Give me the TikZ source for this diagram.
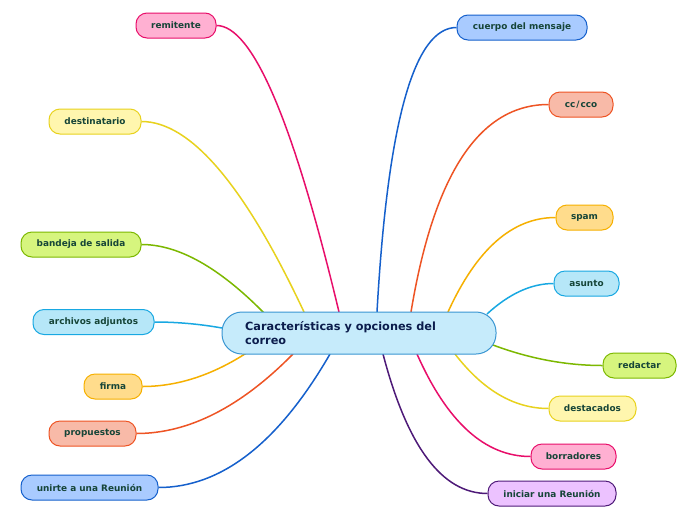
\documentclass[tikz,border=0pt]{standalone}
\usepackage{fontspec}
\setmainfont{DejaVu Sans}
\usetikzlibrary{calc}
\definecolor{pinkL}{HTML}{E80E6A}\definecolor{pinkF}{HTML}{FFB0D2}
\definecolor{yelL}{HTML}{E8D21E}\definecolor{yelF}{HTML}{FFF6AE}
\definecolor{grnL}{HTML}{7CB800}\definecolor{grnF}{HTML}{D6F57E}
\definecolor{cyaL}{HTML}{18A8E2}\definecolor{cyaF}{HTML}{B6E7F8}
\definecolor{ornL}{HTML}{F6B000}\definecolor{ornF}{HTML}{FFDC8C}
\definecolor{redL}{HTML}{EE5424}\definecolor{redF}{HTML}{F8BAA8}
\definecolor{bluL}{HTML}{1560CC}\definecolor{bluF}{HTML}{A9CBFF}
\definecolor{purL}{HTML}{4E1A78}\definecolor{purF}{HTML}{ECC2FF}
\definecolor{cenL}{HTML}{3A96D2}\definecolor{cenF}{HTML}{C6EBFB}
\definecolor{leafT}{HTML}{164538}\definecolor{cenT}{HTML}{0B1C4C}
\tikzset{
  leaf/.style={draw=#1L, fill=#1F, line width=1pt, rounded corners=11pt,
    minimum height=25pt, inner sep=0pt, text=leafT,
    font=\bfseries\fontsize{8.9}{10}\selectfont},
  conn/.style={draw=#1L, line width=1.5pt},
}
\newcommand\conn[4]{% color, start, end, f
  \path (#2) coordinate (s) (#3) coordinate (e);
  \coordinate (q) at ($(e)!#4!(e -| s)$);
  \draw[conn=#1] (s) .. controls ($(s)!0.667!(q)$) and ($(e)!0.667!(q)$) .. (e);
}
\begin{document}
\begin{tikzpicture}[x=1pt,y=-1pt]
\useasboundingbox[fill=white] (0,0) rectangle (696,520);
% leaves
\node[leaf=pink, minimum width=80pt] (rem) at (176,25.5) {remitente};
\node[leaf=yel, minimum width=92pt] (des) at (95,121.5) {destinatario};
\node[leaf=grn, minimum width=120pt] (ban) at (81,244.5) {bandeja de salida};
\node[leaf=cya, minimum width=121pt] (arc) at (93.5,322) {archivos adjuntos};
\node[leaf=orn, minimum width=58pt] (fir) at (113,386.5) {firma};
\node[leaf=red, minimum width=87pt] (pro) at (92.5,433.5) {propuestos};
\node[leaf=blu, minimum width=137pt] (uni) at (89.5,487.5) {unirte a una Reunión};
\node[leaf=blu, minimum width=130pt] (cue) at (522,27.5) {cuerpo del mensaje};
\node[leaf=red, minimum width=64pt] (cc) at (581,104.5) {cc\kern1pt/\kern1pt cco};
\node[leaf=orn, minimum width=57pt] (spa) at (584.5,217.5) {spam};
\node[leaf=cya, minimum width=65pt] (asu) at (586.5,283.5) {asunto};
\node[leaf=grn, minimum width=73pt] (red) at (639.5,365.5) {redactar};
\node[leaf=yel, minimum width=87pt] (dst) at (592.5,408.5) {destacados};
\node[leaf=pink, minimum width=85pt] (bor) at (573.5,456.5) {borradores};
\node[leaf=pur, minimum width=128pt] (ini) at (552,493.5) {iniciar una Reunión};
% connectors (drawn under the central node)
\path (222,312) coordinate (cnw) (496,354) coordinate (cse);
\conn{pink}{$(cnw)+(117,0)$}{rem.east}{0.44}
\conn{yel}{$(cnw)+(82,0)$}{des.east}{0.45}
\conn{grn}{$(cnw)+(42,1)$}{ban.east}{0.45}
\conn{cya}{$(cnw)+(0,16)$}{arc.east}{0.5}
\conn{orn}{$(cnw)+(26,40)$}{fir.east}{0.5}
\conn{red}{$(cnw)+(71,42)$}{pro.east}{0.5}
\conn{blu}{$(cnw)+(108,42)$}{uni.east}{0.55}
\conn{blu}{$(cnw)+(155,0)$}{cue.west}{0.8}
\conn{red}{$(cnw)+(189,0)$}{cc.west}{0.75}
\conn{orn}{$(cnw)+(226,0)$}{spa.west}{0.6}
\conn{cya}{$(cnw)+(265,2)$}{asu.west}{0.5}
\conn{grn}{$(cse)+(-3,-9)$}{red.west}{0.5}
\conn{yel}{$(cse)+(-41,0)$}{dst.west}{0.55}
\conn{pink}{$(cse)+(-79,0)$}{bor.west}{0.6}
\conn{pur}{$(cse)+(-113,0)$}{ini.west}{0.65}
% central node
\node[draw=cenL, fill=cenF, line width=1pt, rounded corners=20pt,
  minimum width=274pt, minimum height=42pt, inner sep=0pt] (c) at (359,333) {};
\node[anchor=west, text=cenT, align=left, inner sep=0pt,
  font=\bfseries\fontsize{11.3}{14.5}\selectfont] (ct) at (245,333)
  {Características y opciones del\\correo};
\end{tikzpicture}
\end{document}
